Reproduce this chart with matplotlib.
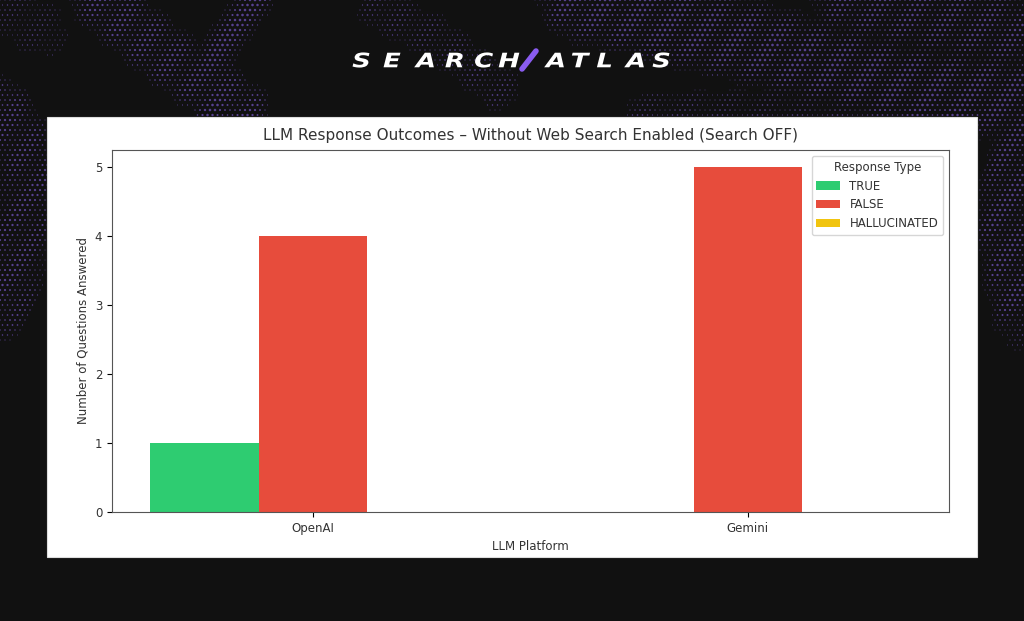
import numpy as np
import matplotlib
matplotlib.use("Agg")
import matplotlib.pyplot as plt
from matplotlib.patches import Rectangle, PathPatch
from matplotlib.textpath import TextPath
from matplotlib.font_manager import FontProperties
from matplotlib.transforms import Affine2D

platforms = ["OpenAI", "Gemini"]
response_types = ["TRUE", "FALSE", "HALLUCINATED"]
counts = {
    "TRUE": [1, 0],
    "FALSE": [4, 5],
    "HALLUCINATED": [0, 0],
}
colors = {"TRUE": "#2ecc71", "FALSE": "#e74c3c", "HALLUCINATED": "#f1c40f"}
title = "LLM Response Outcomes \u2013 Without Web Search Enabled (Search OFF)"

W, H = 1024, 621
fig = plt.figure(figsize=(W / 100, H / 100), dpi=100)
fig.patch.set_facecolor("#111111")

# ---- decorative background (wavy dot field) ----
bg = fig.add_axes([0, 0, 1, 1], zorder=0)
bg.set_xlim(0, W)
bg.set_ylim(H, 0)
bg.axis("off")


def ridge(px, py, pts, w):
    pts = np.asarray(pts, float)
    d = np.full(px.shape, 1e9)
    for (x0, y0), (x1, y1) in zip(pts[:-1], pts[1:]):
        vx, vy = x1 - x0, y1 - y0
        t = np.clip(((px - x0) * vx + (py - y0) * vy) / (vx * vx + vy * vy), 0, 1)
        dd = np.hypot(px - (x0 + t * vx), py - (y0 + t * vy))
        d = np.minimum(d, dd)
    return np.exp(-(d / w) ** 4)


sp = 5.0
gy, gx = np.mgrid[0:360:sp, 0:W:sp]
gx = gx + (np.arange(gx.shape[0])[:, None] % 2) * sp / 2
val = np.maximum.reduce([
    0.85 * ridge(gx, gy, [(100, 0), (165, 55), (240, 110)], 28),
    1.00 * ridge(gx, gy, [(255, 0), (218, 50), (210, 105)], 18),
    0.80 * ridge(gx, gy, [(0, 110), (35, 170), (15, 250), (0, 320)], 30),
    0.35 * ridge(gx, gy, [(0, 0), (40, 30)], 30),
    0.45 * ridge(gx, gy, [(380, 10), (440, 40), (500, 90)], 22),
    1.00 * ridge(gx, gy, [(580, 0), (760, 45), (900, 85), (1024, 100)], 38),
    0.85 * ridge(gx, gy, [(850, 0), (1024, 35)], 35),
    0.90 * ridge(gx, gy, [(1024, 110), (1002, 220), (1024, 340)], 26),
    0.40 * ridge(gx, gy, [(640, 110), (800, 105), (960, 130)], 18),
])
val = val * (0.45 + 0.55 * np.sin(gx * 0.08 + gy * 0.06) ** 2)
val = val * np.clip((360 - gy) / 60, 0, 1)
m = val > 0.12
bg.scatter(gx[m], gy[m], s=val[m] * 3.6, color="#5c449a", alpha=0.95, linewidths=0)
bg.add_patch(Rectangle((47, 117), 930, 440, facecolor="white", edgecolor="#dddddd", lw=0.8, zorder=3))

# ---- logo ----
fp = FontProperties(family="DejaVu Sans", weight="bold", style="italic")
logo_left = ["S", "E", "A", "R", "C", "H"]
logo_right = ["A", "T", "L", "A", "S"]
xs_left = [361, 392, 424, 454, 484, 509]
xs_right = [554, 581, 604, 634, 661]
for ch, xc in zip(logo_left + logo_right, xs_left + xs_right):
    tp = TextPath((0, 0), ch, size=20, prop=fp)
    bb = tp.get_extents()
    tr = (Affine2D().translate(-(bb.x0 + bb.x1) / 2, -(bb.y0 + bb.y1) / 2)
          .scale(1.3, -1.0).translate(xc, 60))
    bg.add_patch(PathPatch(tr.transform_path(tp), facecolor="white", edgecolor="none", zorder=4))
bg.plot([522, 536], [69, 51], color="#8a5cf0", lw=4, solid_capstyle="round", zorder=4)

# ---- chart ----
ax = fig.add_axes([112 / W, 1 - 512 / H, (949 - 112) / W, (512 - 150) / H], zorder=2)
x = np.arange(len(platforms))
bw = 0.25
for i, rt in enumerate(response_types):
    ax.bar(x + (i - 1) * bw, counts[rt], width=bw, color=colors[rt], label=rt)
ax.set_xticks(x)
ax.set_xticklabels(platforms, fontsize=8.5, color="#333333")
ax.tick_params(axis="y", labelsize=8.5, labelcolor="#333333")
ax.set_yticks(range(0, 6))
ax.set_title(title, fontsize=11, color="#333333", pad=7)
ax.set_xlabel("LLM Platform", fontsize=8.5, color="#333333")
ax.set_ylabel("Number of Questions Answered", fontsize=8.5, color="#333333")
for s in ax.spines.values():
    s.set_color("#555555")
leg = ax.legend(title="Response Type", loc="upper right", fontsize=8.5, title_fontsize=8.5)
leg.get_title().set_color("#333333")
for t in leg.get_texts():
    t.set_color("#333333")

fig.savefig("out.png", dpi=100, facecolor=fig.get_facecolor())
